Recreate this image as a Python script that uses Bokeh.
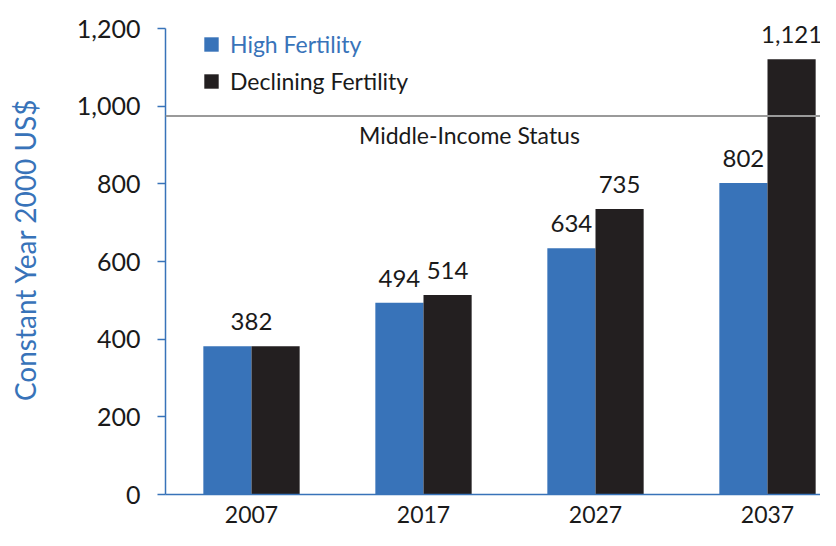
from bokeh.plotting import figure
from bokeh.models import (ColumnDataSource, Range1d, FixedTicker, Span, Label, LabelSet,
                          Legend, LegendItem, NumeralTickFormatter)
from bokeh.embed import file_html
from bokeh.resources import INLINE
from bokeh.core.properties import value

# ---- data ----
years = ["2007", "2017", "2027", "2037"]
high_fertility = [382, 494, 634, 802]
declining_fertility = [382, 514, 735, 1121]
middle_income_threshold = 975
y_ticks = [0, 200, 400, 600, 800, 1000, 1200]

BLUE = "#3873b9"
DARK = "#231f20"
TXT = "#1a1a1a"
FONT = "Lato"

pos = list(range(1, len(years) + 1))
bw = 0.28

W, H = 820, 530
LEFT, TOP, BOTTOM = 165, 4, 36
Y_END = 1262
frame_w = W - LEFT
frame_h = H - TOP - BOTTOM

p = figure(width=W, height=H, output_backend="svg", toolbar_location=None,
           x_range=Range1d(0.5, 0.5 + frame_w / 172), y_range=Range1d(0, Y_END),
           min_border_left=LEFT, min_border_right=0, min_border_top=TOP,
           min_border_bottom=BOTTOM)
p.outline_line_color = None
p.xgrid.grid_line_color = None
p.ygrid.grid_line_color = None

src_h = ColumnDataSource(dict(x=[v - bw / 2 for v in pos], top=high_fertility))
src_d = ColumnDataSource(dict(x=[v + bw / 2 for v in pos], top=declining_fertility))
r_h = p.vbar(x="x", top="top", width=bw, source=src_h, fill_color=BLUE, line_color=None)
r_d = p.vbar(x="x", top="top", width=bw, source=src_d, fill_color=DARK, line_color=None)

# threshold line
p.add_layout(Span(location=middle_income_threshold, dimension="width",
                  line_color="#9a9a9a", line_width=2))
p.add_layout(Label(x=2.267, y=middle_income_threshold, text="Middle-Income Status",
                   text_align="center", text_baseline="alphabetic", y_offset=-19,
                   text_font=FONT, text_font_size="23px", text_color=TXT))

# value labels
lx, ly, lt = [], [], []
for i, (h, d) in enumerate(zip(high_fertility, declining_fertility)):
    if h == d:
        lx.append(pos[i]); ly.append(h); lt.append(f"{h:,}")
    else:
        lx += [pos[i] - bw / 2, pos[i] + bw / 2]
        ly += [h, d]
        lt += [f"{h:,}", f"{d:,}"]
p.add_layout(LabelSet(x="x", y="y", text="t", source=ColumnDataSource(dict(x=lx, y=ly, t=lt)),
                      text_align="center", text_baseline="alphabetic", y_offset=16,
                      text_font=value(FONT), text_font_size=value("24px"),
                      text_color=value(TXT)))

# axes
p.yaxis.bounds = (y_ticks[0], y_ticks[-1])
p.yaxis.ticker = FixedTicker(ticks=y_ticks)
p.yaxis.formatter = NumeralTickFormatter(format="0,0")
p.yaxis.axis_line_color = BLUE
p.yaxis.axis_line_width = 1.5
p.yaxis.major_tick_line_color = BLUE
p.yaxis.major_tick_line_width = 1.5
p.yaxis.major_tick_out = 8
p.yaxis.major_tick_in = 0
p.yaxis.minor_tick_line_color = None
p.yaxis.major_label_standoff = 17
p.yaxis.major_label_text_font = FONT
p.yaxis.major_label_text_font_size = "25px"
p.yaxis.major_label_text_color = TXT
p.yaxis.axis_label = "Constant Year 2000 US$"
p.yaxis.axis_label_text_font = FONT
p.yaxis.axis_label_text_font_size = "28px"
p.yaxis.axis_label_text_font_style = "normal"
p.yaxis.axis_label_text_color = BLUE
p.yaxis.axis_label_standoff = 32

p.xaxis.ticker = FixedTicker(ticks=pos)
p.xaxis.major_label_overrides = {v: y for v, y in zip(pos, years)}
p.xaxis.axis_line_color = BLUE
p.xaxis.axis_line_width = 1.5
p.xaxis.major_tick_line_color = None
p.xaxis.minor_tick_line_color = None
p.xaxis.major_label_standoff = 5
p.xaxis.major_label_text_font = FONT
p.xaxis.major_label_text_font_size = "23px"
p.xaxis.major_label_text_color = TXT

# legends (two, so each label can have its own colour)
extra = 28 - TOP
for r, name, col, top_px in [(r_h, "High Fertility", BLUE, 30 + extra),
                             (r_d, "Declining Fertility", TXT, 67 + extra)]:
    lg = Legend(items=[LegendItem(label=name, renderers=[r])],
                location=(37, frame_h - top_px),
                label_text_font=FONT, label_text_font_size="23px", label_text_color=col,
                glyph_width=18, glyph_height=18, label_height=18, label_standoff=10,
                padding=0, margin=0, spacing=0, border_line_color=None,
                background_fill_alpha=0)
    p.add_layout(lg)

open("out.html", "w").write(file_html(p, INLINE))
